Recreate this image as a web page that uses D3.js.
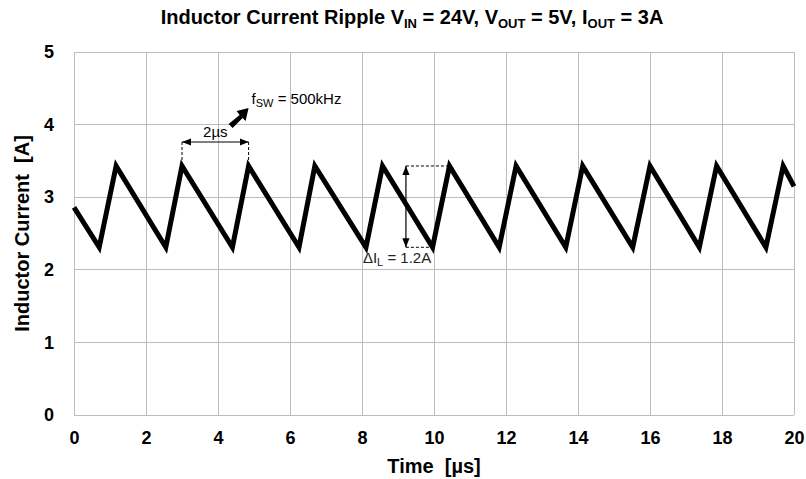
<!DOCTYPE html>
<html>
<head>
<meta charset="utf-8">
<script src="https://cdn.jsdelivr.net/npm/d3@7"></script>
<style>
  body { margin: 0; background: #fff; }
  text { font-family: Arial, "Liberation Sans", sans-serif; white-space: pre; }
</style>
</head>
<body>
<script>
// waveform corners (time in µs, current in A)
var times   = [0, 0.70, 1.17, 2.55, 3.00, 4.40, 4.85, 6.25, 6.69, 8.11, 8.57, 9.96, 10.43,
               11.81, 12.28, 13.66, 14.13, 15.52, 16.00, 17.37, 17.85, 19.22, 19.70, 20];
var current = [2.86, 2.31, 3.43, 2.31, 3.43, 2.31, 3.43, 2.31, 3.43, 2.31, 3.43, 2.31, 3.43,
               2.31, 3.43, 2.31, 3.43, 2.31, 3.43, 2.31, 3.43, 2.31, 3.43, 3.15];

var xTicks = [0, 2, 4, 6, 8, 10, 12, 14, 16, 18, 20];
var yTicks = [0, 1, 2, 3, 4, 5];

// annotation anchors in data units
var periodMark = { t0: 3.00, t1: 4.85, level: 3.76, top: 3.43 };
var rippleMark = { t: 9.22, tPeak: 10.43, tValley: 9.96, hi: 3.43, lo: 2.31 };

var width = 806, height = 479;
var margin = { left: 74, right: 12, top: 52, bottom: 64 };

var svg = d3.select('body').append('svg')
  .attr('width', width)
  .attr('height', height);

var x = d3.scaleLinear().domain([0, 20]).range([margin.left, width - margin.right]);
var y = d3.scaleLinear().domain([0, 5]).range([height - margin.bottom, margin.top]);

// arrowhead marker
var defs = svg.append('defs');
defs.append('marker')
  .attr('id', 'head')
  .attr('viewBox', '0 0 10 10')
  .attr('refX', 10).attr('refY', 5)
  .attr('markerWidth', 9).attr('markerHeight', 9)
  .attr('markerUnits', 'userSpaceOnUse')
  .attr('orient', 'auto-start-reverse')
  .append('path').attr('d', 'M0,1 L10,5 L0,9 Z').attr('fill', '#000');

// gridlines
svg.append('g').selectAll('line.v').data(xTicks).enter().append('line')
  .attr('x1', function(d) { return x(d); }).attr('x2', function(d) { return x(d); })
  .attr('y1', y(0)).attr('y2', y(5))
  .attr('stroke', '#bdbdbd').attr('stroke-width', 1).attr('shape-rendering', 'crispEdges');
svg.append('g').selectAll('line.h').data(yTicks).enter().append('line')
  .attr('x1', x(0)).attr('x2', x(20))
  .attr('y1', function(d) { return y(d); }).attr('y2', function(d) { return y(d); })
  .attr('stroke', '#bdbdbd').attr('stroke-width', 1).attr('shape-rendering', 'crispEdges');

// axes (labels only)
var xAxis = svg.append('g')
  .attr('transform', 'translate(0,' + (y(0) + 13) + ')')
  .call(d3.axisBottom(x).tickValues(xTicks).tickSize(0).tickFormat(d3.format('d')));
xAxis.select('.domain').remove();
xAxis.selectAll('text')
  .attr('font-size', 18).attr('font-weight', 'bold').attr('fill', '#000')
  .style('font-family', 'Arial, "Liberation Sans", sans-serif');

var yAxis = svg.append('g')
  .attr('transform', 'translate(' + (x(0) - 17) + ',0)')
  .call(d3.axisLeft(y).tickValues(yTicks).tickSize(0).tickFormat(d3.format('d')));
yAxis.select('.domain').remove();
yAxis.selectAll('text')
  .attr('font-size', 18).attr('font-weight', 'bold').attr('fill', '#000')
  .style('font-family', 'Arial, "Liberation Sans", sans-serif');

// waveform
var pts = times.map(function(t, i) { return [t, current[i]]; });
var line = d3.line().x(function(d) { return x(d[0]); }).y(function(d) { return y(d[1]); });
svg.append('path')
  .datum(pts)
  .attr('d', line)
  .attr('fill', 'none')
  .attr('stroke', '#000')
  .attr('stroke-width', 5)
  .attr('stroke-linejoin', 'miter')
  .attr('stroke-miterlimit', 3);

// 2µs period marker
var pm = svg.append('g');
[periodMark.t0, periodMark.t1].forEach(function(t) {
  pm.append('line')
    .attr('x1', x(t)).attr('x2', x(t))
    .attr('y1', y(periodMark.level)).attr('y2', y(periodMark.top) - 2)
    .attr('stroke', '#000').attr('stroke-width', 1).attr('stroke-dasharray', '3,2');
});
pm.append('line')
  .attr('x1', x(periodMark.t0)).attr('x2', x(periodMark.t1))
  .attr('y1', y(periodMark.level)).attr('y2', y(periodMark.level))
  .attr('stroke', '#000').attr('stroke-width', 1.2)
  .attr('marker-start', 'url(#head)').attr('marker-end', 'url(#head)');
pm.append('text')
  .attr('x', (x(periodMark.t0) + x(periodMark.t1)) / 2)
  .attr('y', y(periodMark.level) - 5)
  .attr('text-anchor', 'middle')
  .attr('font-size', 15)
  .text('2µs');

// switching frequency label with block arrow
var fx = x(periodMark.t1) - 2, fy = y(periodMark.level) - 27;
svg.append('path')
  .attr('d', 'M' + (fx - 18) + ',' + (fy + 9) + ' L' + (fx - 7) + ',' + (fy) +
             ' L' + (fx - 10) + ',' + (fy - 4) + ' L' + (fx + 2) + ',' + (fy - 7) +
             ' L' + (fx - 1) + ',' + (fy + 6) + ' L' + (fx - 4) + ',' + (fy + 3) +
             ' L' + (fx - 14) + ',' + (fy + 13) + ' Z')
  .attr('fill', '#000');
var ft = svg.append('text')
  .attr('x', fx + 5).attr('y', fy - 11)
  .attr('font-size', 15);
ft.append('tspan').text('f');
ft.append('tspan').attr('font-size', 11).attr('dy', 3).text('SW');
ft.append('tspan').attr('dy', -3).text(' = 500kHz');

// ripple marker
var rm = svg.append('g');
rm.append('line')
  .attr('x1', x(rippleMark.t)).attr('x2', x(rippleMark.tPeak))
  .attr('y1', y(rippleMark.hi)).attr('y2', y(rippleMark.hi))
  .attr('stroke', '#000').attr('stroke-width', 1).attr('stroke-dasharray', '3,2');
rm.append('line')
  .attr('x1', x(rippleMark.t)).attr('x2', x(rippleMark.tValley))
  .attr('y1', y(rippleMark.lo)).attr('y2', y(rippleMark.lo))
  .attr('stroke', '#000').attr('stroke-width', 1).attr('stroke-dasharray', '3,2');
rm.append('line')
  .attr('x1', x(rippleMark.t)).attr('x2', x(rippleMark.t))
  .attr('y1', y(rippleMark.hi)).attr('y2', y(rippleMark.lo))
  .attr('stroke', '#000').attr('stroke-width', 1.2)
  .attr('marker-start', 'url(#head)').attr('marker-end', 'url(#head)');
var rt = rm.append('text')
  .attr('x', x(rippleMark.t) - 43).attr('y', y(rippleMark.lo) + 16)
  .attr('font-size', 15).attr('fill', '#222');
rt.append('tspan').text('ΔI');
rt.append('tspan').attr('font-size', 11).attr('dy', 3).text('L');
rt.append('tspan').attr('dy', -3).text(' = 1.2A');

// title
var title = svg.append('text')
  .attr('x', 412).attr('y', 24)
  .attr('text-anchor', 'middle')
  .attr('font-size', 20).attr('font-weight', 'bold');
title.append('tspan').text('Inductor Current Ripple V');
title.append('tspan').attr('font-size', 13).attr('dy', 4).text('IN');
title.append('tspan').attr('dy', -4).text(' = 24V, V');
title.append('tspan').attr('font-size', 13).attr('dy', 4).text('OUT');
title.append('tspan').attr('dy', -4).text(' = 5V, I');
title.append('tspan').attr('font-size', 13).attr('dy', 4).text('OUT');
title.append('tspan').attr('dy', -4).text(' = 3A');

// axis titles
svg.append('text')
  .attr('x', (x(0) + x(20)) / 2).attr('y', 473)
  .attr('text-anchor', 'middle')
  .attr('font-size', 20).attr('font-weight', 'bold')
  .text('Time  [µs]');
svg.append('text')
  .attr('transform', 'translate(29,' + ((y(0) + y(5)) / 2) + ') rotate(-90)')
  .attr('text-anchor', 'middle')
  .attr('font-size', 20).attr('font-weight', 'bold')
  .text('Inductor Current  [A]');
</script>
</body>
</html>
